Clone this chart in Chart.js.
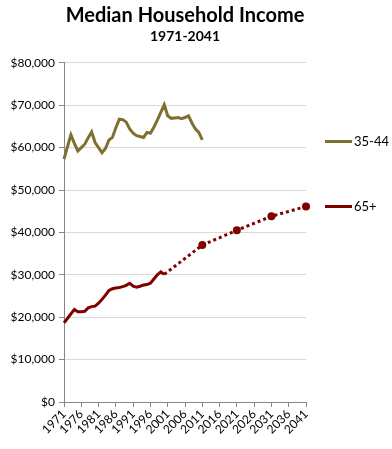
<!DOCTYPE html>
<html>
<head>
<meta charset="utf-8">
<script src="https://cdn.jsdelivr.net/npm/chart.js@4/dist/chart.umd.min.js"></script>
<style>
    html, body { margin: 0; padding: 0; background: #fff; }
    #wrap { position: relative; width: 392px; height: 449px; }
    .leyenda { position: absolute; left: 325px; font: 13px Lato, sans-serif; color: #000; display: flex; align-items: center; }
    .leyenda span.linea { display: inline-block; width: 27px; height: 3px; margin-right: 2px; }
</style>
</head>
<body>
<div id="wrap">
    <canvas id="ingresosChart" width="392" height="449"></canvas>
    <div class="leyenda" style="top:133px"><span class="linea" style="background:#7F7030"></span>35-44</div>
    <div class="leyenda" style="top:198px"><span class="linea" style="background:#800000"></span>65+</div>
</div>
<script>
// Años del eje X (1971-2041)
const anios = Array.from({ length: 71 }, (_, i) => String(1971 + i));

// Ingreso mediano, hogares 35-44 (1971-2011)
const ingresos3544 = [57300, 60200, 63000, 61000, 59200, 60000, 60800, 62300, 63700, 61200,
    60000, 58800, 59800, 61800, 62400, 64700, 66700, 66600, 66000, 64400,
    63400, 62800, 62600, 62400, 63600, 63400, 64800, 66500, 68300, 70100,
    67500, 66900, 67000, 67100, 66800, 67100, 67500, 65800, 64400, 63600, 61800];

// Ingreso mediano, hogares 65+ (1971-2000)
const ingresos65 = [18700, 19700, 20800, 21800, 21300, 21300, 21400, 22200, 22500, 22600,
    23300, 24200, 25200, 26300, 26700, 26900, 27000, 27200, 27500, 28000,
    27300, 27100, 27300, 27600, 27700, 28000, 29000, 30000, 30700, 30100];

// Proyección 65+
const aniosProyeccion = ['2000', '2011', '2021', '2031', '2041'];
const proyeccion65 = [30100, 37000, 40500, 43800, 46100];

const ticksY = [0, 10000, 20000, 30000, 40000, 50000, 60000, 70000, 80000];

const colorOliva = '#7F7030';
const colorRojo = '#800000';

function alinear(valores, inicio) {
    return anios.map((a, i) => {
        const idx = i - anios.indexOf(inicio);
        return idx >= 0 && idx < valores.length ? valores[idx] : null;
    });
}

const datosProyeccion = anios.map(a => {
    const idx = aniosProyeccion.indexOf(a);
    return idx >= 0 ? proyeccion65[idx] : null;
});

const fuente = 'Lato, sans-serif';

new Chart(document.getElementById('ingresosChart'), {
    type: 'line',
    data: {
        labels: anios,
        datasets: [
            {
                label: '35-44',
                data: alinear(ingresos3544, '1971'),
                borderColor: colorOliva,
                borderWidth: 3,
                pointRadius: 0,
                tension: 0
            },
            {
                label: '65+',
                data: alinear(ingresos65, '1971'),
                borderColor: colorRojo,
                borderWidth: 3,
                pointRadius: 0,
                tension: 0
            },
            {
                label: '65+ proyección',
                data: datosProyeccion,
                borderColor: colorRojo,
                backgroundColor: colorRojo,
                borderWidth: 3,
                borderDash: [3, 3],
                spanGaps: true,
                pointBorderWidth: 0,
                pointRadius: ctx => (ctx.raw !== null && anios[ctx.dataIndex] !== '2000') ? 4 : 0,
                tension: 0
            }
        ]
    },
    options: {
        responsive: false,
        animation: false,
        layout: { padding: { left: 0, right: 86, top: 0, bottom: 0 } },
        plugins: {
            legend: { display: false },
            tooltip: { enabled: false },
            title: {
                display: true,
                fullSize: false,
                text: 'Median Household Income',
                color: '#000',
                font: { family: fuente, size: 20, weight: 'bold' },
                padding: { top: 4, bottom: 0 }
            },
            subtitle: {
                display: true,
                fullSize: false,
                text: '1971-2041',
                color: '#000',
                font: { family: fuente, size: 14, weight: 'bold' },
                padding: { top: 0, bottom: 18 }
            }
        },
        scales: {
            x: {
                type: 'category',
                offset: false,
                afterFit: s => { s.height = 47; },
                grid: { drawOnChartArea: false, tickLength: 5, tickColor: '#868686' },
                border: { color: '#868686' },
                ticks: {
                    autoSkip: false,
                    minRotation: 45,
                    maxRotation: 45,
                    padding: 0,
                    color: '#000',
                    font: { family: fuente, size: 12 },
                    callback: function (v, i) {
                        return i % 5 === 0 ? anios[i] : null;
                    }
                }
            },
            y: {
                min: 0,
                max: 80000,
                afterFit: s => { s.width = 64; },
                afterBuildTicks: s => { s.ticks = ticksY.map(v => ({ value: v })); },
                grid: { color: '#d9d9d9', tickLength: 5, tickColor: '#868686' },
                border: { color: '#868686' },
                ticks: {
                    padding: 4,
                    color: '#000',
                    font: { family: fuente, size: 12 },
                    callback: v => '$' + v.toLocaleString('en-US')
                }
            }
        }
    }
});
</script>
</body>
</html>
